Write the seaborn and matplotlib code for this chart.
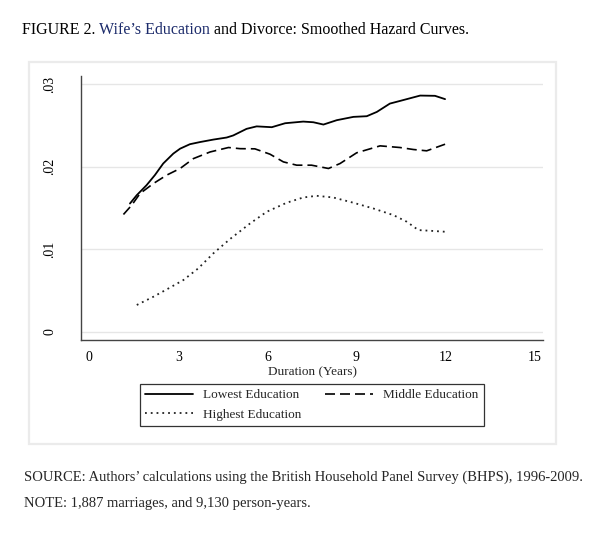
import numpy as np
import pandas as pd
import matplotlib
matplotlib.use("Agg")
import matplotlib.pyplot as plt
import seaborn as sns
from matplotlib.patches import Rectangle

# =====================================================
# DATA
# =====================================================
low_x = [1.37, 1.6, 1.93, 2.21, 2.49, 2.83, 3.06, 3.39, 3.73, 4.18, 4.63, 4.85,
         5.3, 5.64, 6.15, 6.6, 7.21, 7.55, 7.89, 8.34, 8.9, 9.35, 9.69, 10.13,
         10.47, 11.15, 11.65, 11.99]
low_y = [0.01556, 0.01657, 0.01778, 0.0190, 0.0204, 0.0216, 0.0222, 0.02274,
         0.0230, 0.0233, 0.02355, 0.0238, 0.0246, 0.0249, 0.0248, 0.02528,
         0.02548, 0.0254, 0.02512, 0.02565, 0.02605, 0.02613, 0.02665, 0.02766,
         0.02798, 0.02863, 0.0286, 0.0282]

mid_x = [1.15, 1.43, 1.71, 2.16, 2.61, 3.06, 3.51, 4.07, 4.69, 5.08, 5.58, 6.09,
         6.54, 6.99, 7.49, 8.06, 8.45, 9.01, 9.8, 10.47, 10.92, 11.37, 11.99]
mid_y = [0.01423, 0.01536, 0.01677, 0.01798, 0.0190, 0.0198, 0.0210, 0.0218,
         0.02234, 0.0222, 0.02218, 0.02153, 0.0206, 0.0202, 0.0202, 0.0198,
         0.0204, 0.0217, 0.02254, 0.02234, 0.0221, 0.02194, 0.02274]

high_x = [1.6, 2.16, 2.61, 3.17, 3.67, 4.18, 4.74, 5.42, 5.98, 6.65, 7.21, 7.66,
          8.22, 8.9, 9.57, 10.25, 10.7, 11.09, 11.48, 11.99]
high_y = [0.00327, 0.00427, 0.00516, 0.00629, 0.0077, 0.00952, 0.01125, 0.01315,
          0.01456, 0.01565, 0.01629, 0.01649, 0.01629, 0.01565, 0.01496, 0.01415,
          0.01335, 0.01234, 0.01226, 0.01214]

labels = ["Lowest Education", "Middle Education", "Highest Education"]
x_ticks = [0, 3, 6, 9, 12, 15]
y_ticks = [0, 0.01, 0.02, 0.03]
y_tick_labels = ["0", ".01", ".02", ".03"]

# =====================================================
# STYLE
# =====================================================
sns.set_theme(style="white")
plt.rcParams["font.family"] = ["Liberation Serif", "DejaVu Serif"]

W, H = 606, 542
fig = plt.figure(figsize=(W / 100, H / 100), dpi=100)
ax = fig.add_axes([81 / W, 1 - 340 / H, (543 - 81) / W, (340 - 76) / H])

# light gray graph region frame
fig.patches.append(Rectangle((29 / W, 1 - 444 / H), (556 - 29) / W, (444 - 62) / H,
                             transform=fig.transFigure, fill=False,
                             edgecolor="#ebebeb", linewidth=1.6))

# =====================================================
# CURVES
# =====================================================
sns.lineplot(x=low_x, y=low_y, ax=ax, color="black", linewidth=1.3,
             label=labels[0], sort=False)
sns.lineplot(x=mid_x, y=mid_y, ax=ax, color="black", linewidth=1.2,
             linestyle=(0, (6, 3)), label=labels[1], sort=False)
sns.lineplot(x=high_x, y=high_y, ax=ax, color="#222222", linewidth=1.3,
             linestyle=(0, (1, 2.2)), label=labels[2], sort=False)

# =====================================================
# AXES
# =====================================================
ax.set_xlim(-0.28, 15.29)
ax.set_ylim(-0.00097, 0.0310)
ax.set_xticks(x_ticks)
ax.set_yticks(y_ticks)
ax.set_yticklabels(y_tick_labels, rotation=90, va="center")
ax.grid(axis="y", color="#e6e6e6", linewidth=1.0)
ax.grid(axis="x", visible=False)
for s in ["top", "right"]:
    ax.spines[s].set_visible(False)
for s in ["left", "bottom"]:
    ax.spines[s].set_color("#444444")
    ax.spines[s].set_linewidth(1.0)
ax.tick_params(axis="both", direction="out", length=5, width=1.0,
               color="#444444", labelsize=10, labelcolor="black")
ax.tick_params(axis="y", pad=13)
ax.tick_params(axis="x", pad=3)
ax.set_xlabel("Duration (Years)", fontsize=9.5, labelpad=1.5)
ax.set_ylabel("")

# =====================================================
# LEGEND
# =====================================================
handles, lbls = ax.get_legend_handles_labels()
ax.get_legend().remove()
order = [0, 2, 1]
leg = fig.legend([handles[i] for i in order], [lbls[i] for i in order],
                 ncol=2, loc="center", bbox_to_anchor=(312 / W, 1 - 405 / H),
                 fontsize=9.5, frameon=True, fancybox=False, edgecolor="black",
                 handlelength=3.6, handletextpad=0.8, columnspacing=1.8,
                 labelspacing=0.55, borderpad=0.4)
leg.get_frame().set_linewidth(0.9)

# =====================================================
# TEXT
# =====================================================
# title in three pieces ("Wife's Education" is a dark blue link in the source)
fig.canvas.draw()
r = fig.canvas.get_renderer()
parts = [("FIGURE 2. ", "black"), ("Wife\u2019s Education", "#1c2b6b"),
         (" and Divorce: Smoothed Hazard Curves.", "black")]
x0 = 22 / W
for txt, col in parts:
    t = fig.text(x0, 1 - 30 / H, txt, ha="left", va="center", fontsize=11.5, color=col)
    bb = t.get_window_extent(renderer=r)
    x0 += bb.width / W

fig.text(24 / W, 1 - 477 / H,
         "SOURCE: Authors\u2019 calculations using the British Household Panel Survey (BHPS), 1996-2009.",
         ha="left", va="center", fontsize=10.5)
fig.text(24 / W, 1 - 503 / H, "NOTE: 1,887 marriages, and 9,130 person-years.",
         ha="left", va="center", fontsize=10.5)

fig.savefig("out.png", dpi=100)
